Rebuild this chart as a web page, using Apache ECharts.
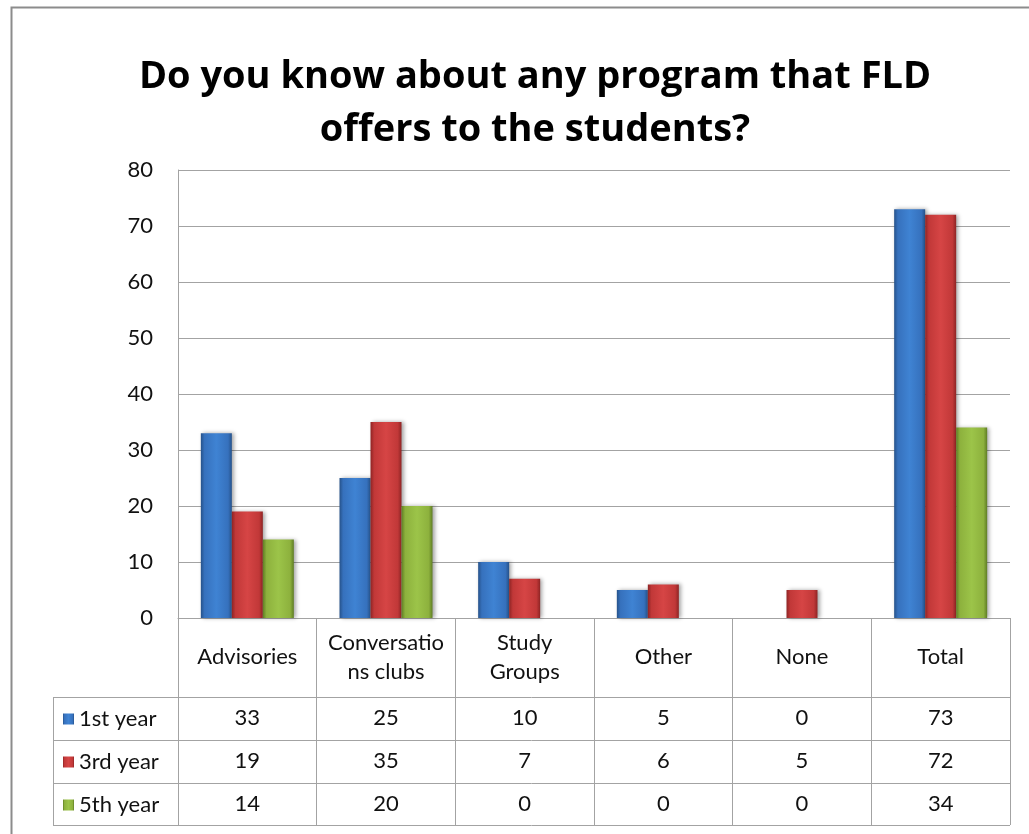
<!DOCTYPE html>
<html>
<head>
<meta charset="utf-8">
<script src="https://cdn.jsdelivr.net/npm/echarts@6/dist/echarts.min.js"></script>
<style>
html,body{margin:0;padding:0;background:#fff;}
#chart{width:1029px;height:834px;}
</style>
</head>
<body>
<div id="chart"></div>
<script>
var titleText = 'Do you know about any program that FLD\noffers to the students?';
var categories = ['Advisories', 'Conversatio\nns clubs', 'Study\nGroups', 'Other', 'None', 'Total'];
var seriesNames = ['1st year', '3rd year', '5th year'];
var year1 = [33, 25, 10, 5, 0, 73];
var year3 = [19, 35, 7, 6, 5, 72];
var year5 = [14, 20, 0, 0, 0, 34];
var yTicks = [0, 10, 20, 30, 40, 50, 60, 70, 80];

var FONT = 'Lato, "Open Sans", sans-serif';
var TITLE_FONT = '"Open Sans", Lato, sans-serif';
var LABEL_SIZE = 22;
var GRID_COLOR = '#a3a3a3';

function hGrad(edge, mid, light) {
  return new echarts.graphic.LinearGradient(0, 0, 1, 0, [
    {offset: 0, color: edge},
    {offset: 0.12, color: mid},
    {offset: 0.5, color: light},
    {offset: 0.88, color: mid},
    {offset: 1, color: edge}
  ]);
}
var colors = [
  hGrad('#26528a', '#3671bd', '#3f83d3'),
  hGrad('#8e2424', '#c13838', '#d64545'),
  hGrad('#5f7d24', '#8db13d', '#9cc449')
];
var seriesData = [year1, year3, year5];

var chart = echarts.init(document.getElementById('chart'));

var gridLeft = 178, gridRight = 1010, gridTop = 170, gridBottom = 618;
var rowCenters = [718, 761, 804];
var rowLines = [697, 740, 783, 825];

var xAxes = [{
  type: 'category',
  data: categories,
  position: 'bottom',
  boundaryGap: true,
  axisLine: {show: true, lineStyle: {color: GRID_COLOR, width: 1}},
  axisTick: {show: true, interval: 0, alignWithLabel: false, length: 825 - gridBottom, lineStyle: {color: GRID_COLOR, width: 1}},
  axisLabel: {interval: 0, margin: 39, verticalAlign: 'middle', color: '#111', fontSize: LABEL_SIZE, lineHeight: 29, fontFamily: FONT}
}];
seriesData.forEach(function (arr, i) {
  xAxes.push({
    type: 'category',
    data: arr.map(String),
    position: 'bottom',
    offset: rowCenters[i] - gridBottom,
    axisLine: {show: false},
    axisTick: {show: false},
    axisLabel: {interval: 0, margin: 0, verticalAlign: 'middle', color: '#111', fontSize: LABEL_SIZE, fontFamily: FONT}
  });
});

var graphics = [
  {type: 'rect', left: 9, top: 5, shape: {width: 1040, height: 850}, style: {fill: 'none', stroke: '#8c8c8c', lineWidth: 2}, silent: true, z: -10}
];
rowLines.forEach(function (y) {
  graphics.push({type: 'line', shape: {x1: 53, y1: y + 0.5, x2: gridRight, y2: y + 0.5}, style: {stroke: GRID_COLOR, lineWidth: 1}, silent: true});
});
graphics.push({type: 'line', shape: {x1: 53.5, y1: rowLines[0], x2: 53.5, y2: rowLines[3]}, style: {stroke: GRID_COLOR, lineWidth: 1}, silent: true});

var option = {
  backgroundColor: '#fff',
  animation: false,
  title: {
    text: titleText,
    left: 530,
    textAlign: 'center',
    top: 46,
    textStyle: {fontFamily: TITLE_FONT, fontWeight: 'bold', fontSize: 38, lineHeight: 53, color: '#000'}
  },
  legend: {
    data: seriesNames,
    orient: 'vertical',
    left: 58,
    top: 701,
    icon: 'rect',
    itemWidth: 11,
    itemHeight: 11,
    itemGap: 17,
    textStyle: {fontFamily: FONT, fontSize: LABEL_SIZE, lineHeight: 26, color: '#111'}
  },
  grid: {left: gridLeft, right: 1029 - gridRight, top: gridTop, bottom: 834 - gridBottom, containLabel: false},
  xAxis: xAxes,
  yAxis: {
    type: 'value',
    min: yTicks[0],
    max: yTicks[yTicks.length - 1],
    interval: 10,
    axisLine: {show: true, lineStyle: {color: GRID_COLOR}},
    axisTick: {show: false},
    axisLabel: {margin: 25, color: '#111', fontSize: LABEL_SIZE, fontFamily: FONT},
    splitLine: {show: true, lineStyle: {color: GRID_COLOR, width: 1}}
  },
  series: seriesNames.map(function (name, i) {
    return {
      name: name,
      type: 'bar',
      xAxisIndex: 0,
      data: seriesData[i].map(function (v) {
        return v === 0 ? {value: v, itemStyle: {opacity: 0}} : v;
      }),
      barWidth: 31,
      barGap: '0%',
      itemStyle: {color: colors[i], shadowColor: 'rgba(0,0,0,0.35)', shadowBlur: 4, shadowOffsetX: 2, shadowOffsetY: 0}
    };
  }),
  graphic: graphics
};
chart.setOption(option);
</script>
</body>
</html>
